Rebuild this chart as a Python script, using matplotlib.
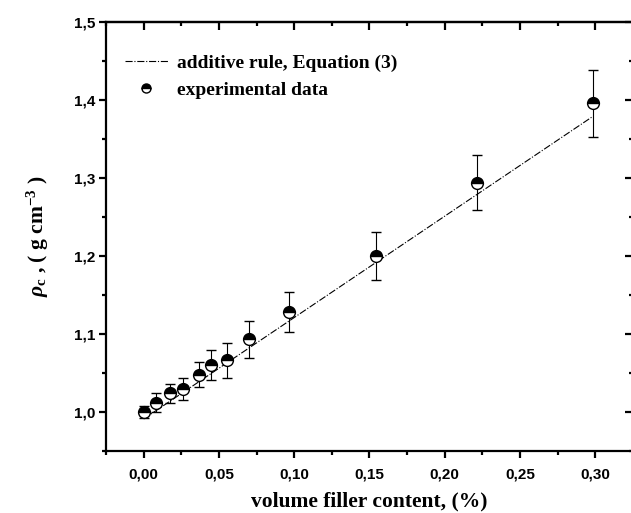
import numpy as np
import matplotlib
matplotlib.use("Agg")
import matplotlib.pyplot as plt
from matplotlib.lines import Line2D
from matplotlib.ticker import MultipleLocator, FuncFormatter

# experimental data (volume filler content, density, error)
phi = [0.000, 0.0082, 0.0173, 0.0262, 0.0365, 0.0450, 0.0553, 0.0697, 0.0963, 0.1545, 0.2213, 0.2984]
rho = [1.000, 1.012, 1.024, 1.029, 1.048, 1.060, 1.066, 1.093, 1.128, 1.200, 1.294, 1.396]
rho_err = [0.008, 0.012, 0.012, 0.014, 0.016, 0.019, 0.022, 0.024, 0.026, 0.031, 0.035, 0.043]

# additive rule line, Equation (3)
rule_phi = [0.000, 0.2984]
rule_rho = [0.991, 1.379]

serif = "Liberation Serif"
sans = "Liberation Sans"

plt.rcParams["mathtext.fontset"] = "custom"
plt.rcParams["mathtext.rm"] = "Liberation Serif:bold"
plt.rcParams["mathtext.bf"] = "Liberation Serif:bold"
plt.rcParams["mathtext.it"] = "Liberation Serif:italic:bold"

fig = plt.figure(figsize=(6.31, 5.13), dpi=100)
ax = fig.add_axes([0.168, 0.121, 0.835, 0.836])

line, = ax.plot(rule_phi, rule_rho, color="black", linestyle="-.", linewidth=0.8)
ax.errorbar(phi, rho, yerr=rho_err, fmt="o", color="black", ecolor="black",
            elinewidth=0.8, capsize=3.3, capthick=0.8,
            markersize=8.5, fillstyle="top", markerfacecolor="black",
            markerfacecoloralt="white", markeredgecolor="black", markeredgewidth=1.0)

ax.set_xlim(-0.025, 0.325)
ax.set_ylim(0.95, 1.5)

ax.xaxis.set_major_locator(MultipleLocator(0.05))
ax.xaxis.set_minor_locator(MultipleLocator(0.025))
ax.yaxis.set_major_locator(MultipleLocator(0.1))
ax.yaxis.set_minor_locator(MultipleLocator(0.05))
ax.xaxis.set_major_formatter(FuncFormatter(lambda v, p: f"{v:.2f}".replace(".", ",")))
ax.yaxis.set_major_formatter(FuncFormatter(lambda v, p: f"{v:.1f}".replace(".", ",")))

for s in ax.spines.values():
    s.set_linewidth(1.6)

ax.tick_params(which="both", direction="out", width=1.6, top=False, right=False)
ax.tick_params(which="major", length=5)
ax.tick_params(which="minor", length=3)
ax.tick_params(axis="x", labelsize=11, pad=7)
ax.tick_params(axis="y", labelsize=11, pad=3)
for lab in ax.get_xticklabels() + ax.get_yticklabels():
    lab.set_fontfamily(sans)
    lab.set_fontweight("bold")

# inward ticks on top and right
sec_x = ax.secondary_xaxis("top")
sec_x.xaxis.set_major_locator(MultipleLocator(0.05))
sec_x.xaxis.set_minor_locator(MultipleLocator(0.025))
sec_x.tick_params(which="both", direction="in", width=1.6, labeltop=False)
sec_x.tick_params(which="major", length=6)
sec_x.tick_params(which="minor", length=3)
sec_x.spines["top"].set_linewidth(1.6)
sec_y = ax.secondary_yaxis("right")
sec_y.yaxis.set_major_locator(MultipleLocator(0.1))
sec_y.yaxis.set_minor_locator(MultipleLocator(0.05))
sec_y.tick_params(which="both", direction="in", width=1.6, labelright=False)
sec_y.tick_params(which="major", length=6)
sec_y.tick_params(which="minor", length=3)

ax.set_xlabel("volume filler content, (%)", fontfamily=serif, fontweight="bold",
              fontsize=15.5, labelpad=7)
ax.set_ylabel(r"$\rho_{\mathrm{c}}$ , ( g cm$^{\mathrm{-3}}$ )",
              fontfamily=serif, fontweight="bold", fontsize=15.5, labelpad=16)

pt_handle = Line2D([], [], linestyle="none", marker="o", markersize=6.5,
                   fillstyle="top", markerfacecolor="black", markerfacecoloralt="white",
                   markeredgecolor="black", markeredgewidth=1.0)
leg = ax.legend([line, pt_handle], ["additive rule, Equation (3)", "experimental data"],
                loc="upper left", bbox_to_anchor=(0.003, 0.965), frameon=False,
                prop={"family": serif, "weight": "bold", "size": 14},
                handlelength=2.2, handletextpad=0.45, labelspacing=0.45)

fig.savefig("out.png", dpi=100)
